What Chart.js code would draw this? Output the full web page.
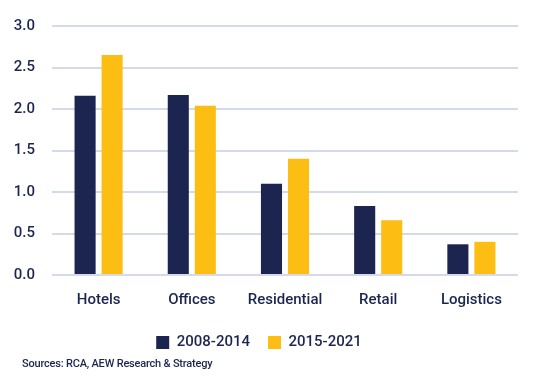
<!DOCTYPE html>
<html lang="en">
  <head>
    <meta charset="UTF-8" />
    <title>Yield spread by sector</title>
    <script src="https://cdn.jsdelivr.net/npm/chart.js"></script>
    <style>
      html, body { margin: 0; padding: 0; background: #ffffff; }
      #wrap { position: relative; width: 542px; height: 386px; }
      #chartBox { position: absolute; left: 0; top: 0; width: 542px; height: 360px; }
      #source {
        position: absolute; left: 22px; top: 357px;
        font-family: Roboto, sans-serif; font-weight: 500; font-size: 11px;
        color: #1b2550; letter-spacing: -0.2px;
      }
    </style>
  </head>
  <body>
    <div id="wrap">
      <div id="chartBox"><canvas id="sectorChart"></canvas></div>
      <div id="source"></div>
    </div>
    <script>
      const categories = ["Hotels", "Offices", "Residential", "Retail", "Logistics"];
      const period1 = [2.16, 2.17, 1.10, 0.83, 0.37];
      const period2 = [2.65, 2.04, 1.40, 0.66, 0.40];
      const seriesNames = ["2008-2014", "2015-2021"];
      const sourceNote = "Sources: RCA, AEW Research & Strategy";

      const navy = "#1b2550";
      const gold = "#fdbe13";
      const fontFamily = "Roboto, sans-serif";

      document.getElementById("source").textContent = sourceNote;

      const ctx = document.getElementById("sectorChart").getContext("2d");

      new Chart(ctx, {
        type: "bar",
        data: {
          labels: categories,
          datasets: [
            {
              label: seriesNames[0],
              data: period1,
              backgroundColor: navy,
              categoryPercentage: 0.58,
              barPercentage: 0.78,
            },
            {
              label: seriesNames[1],
              data: period2,
              backgroundColor: gold,
              categoryPercentage: 0.58,
              barPercentage: 0.78,
            },
          ],
        },
        options: {
          responsive: true,
          maintainAspectRatio: false,
          animation: false,
          layout: { padding: { top: 15, right: 24, left: 0, bottom: 0 } },
          scales: {
            x: {
              grid: { display: false },
              border: { display: false },
              ticks: {
                color: navy,
                maxRotation: 0,
                autoSkip: false,
                font: { family: fontFamily, size: 15, weight: "500" },
                padding: 8,
              },
            },
            y: {
              min: 0,
              max: 3,
              afterFit: (scale) => { scale.width = 52; },
              border: { display: false },
              grid: { color: "#d4d9ec", lineWidth: 2, drawTicks: false },
              ticks: {
                stepSize: 0.5,
                padding: 17,
                color: navy,
                font: { family: fontFamily, size: 15, weight: "500" },
                callback: (v) => Number(v).toFixed(1),
              },
            },
          },
          plugins: {
            legend: {
              position: "bottom",
              labels: {
                color: navy,
                boxWidth: 13,
                boxHeight: 13,
                padding: 18,
                font: { family: fontFamily, size: 15, weight: "500" },
              },
            },
            tooltip: { enabled: false },
          },
        },
      });
    </script>
  </body>
</html>
